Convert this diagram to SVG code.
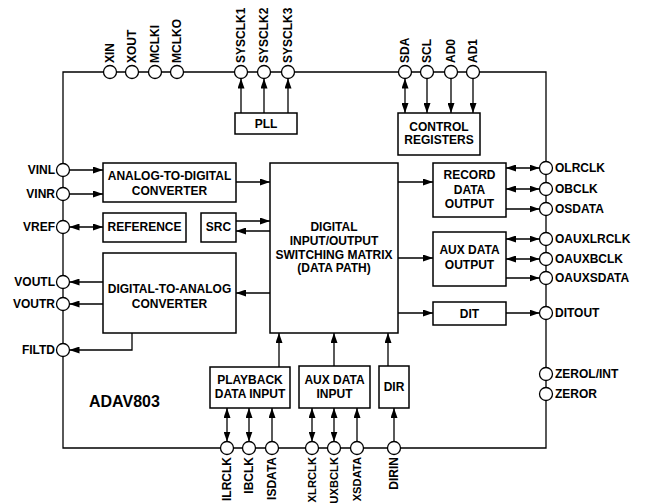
<svg xmlns="http://www.w3.org/2000/svg" width="646" height="504" viewBox="0 0 646 504">
<defs>
<marker id="ah" markerUnits="userSpaceOnUse" markerWidth="10" markerHeight="7" refX="10" refY="3.5" orient="auto-start-reverse">
<path d="M0,0 L10,3.5 L0,7 Z" fill="#000"/>
</marker>
</defs>
<style>
.box{fill:#fff;stroke:#000;stroke-width:1.5}
.pin{fill:#fff;stroke:#000;stroke-width:1.3}
.frame{fill:none;stroke:#000;stroke-width:1.3}
.c line,.c polyline{stroke:#000;stroke-width:1.3;fill:none}
.a{marker-end:url(#ah)}
.d{marker-start:url(#ah);marker-end:url(#ah)}
text{font-family:"Liberation Sans",Arial,sans-serif;font-weight:bold;font-size:12px;fill:#000}
.m{text-anchor:middle}
.e{text-anchor:end}
.s{font-size:11.2px}
</style>
<rect width="646" height="504" fill="#fff"/>
<path class="frame" d="M63,72 H546 V448 H63 Z"/>

<g id="connectors" class="c">
<line class="a" x1="241" y1="113" x2="241" y2="78.5"/>
<line class="a" x1="264" y1="113" x2="264" y2="78.5"/>
<line class="a" x1="288" y1="113" x2="288" y2="78.5"/>
<line class="d" x1="405" y1="78.5" x2="405" y2="113"/>
<line class="a" x1="427" y1="78.5" x2="427" y2="113"/>
<line class="a" x1="451" y1="78.5" x2="451" y2="113"/>
<line class="a" x1="473" y1="78.5" x2="473" y2="113"/>
<line class="a" x1="69.5" y1="170" x2="103" y2="170"/>
<line class="a" x1="69.5" y1="194" x2="103" y2="194"/>
<line class="d" x1="69.5" y1="227" x2="103" y2="227"/>
<line class="a" x1="103" y1="282" x2="69.5" y2="282"/>
<line class="a" x1="103" y1="304" x2="69.5" y2="304"/>
<polyline class="a" points="132,333 132,350 69.5,350"/>
<line class="a" x1="236" y1="182" x2="270" y2="182"/>
<line class="a" x1="236" y1="221" x2="270" y2="221"/>
<line class="a" x1="270" y1="231" x2="236" y2="231"/>
<line class="a" x1="270" y1="293" x2="236" y2="293"/>
<line class="a" x1="398" y1="182" x2="433" y2="182"/>
<line class="a" x1="398" y1="258" x2="433" y2="258"/>
<line class="a" x1="398" y1="313" x2="433" y2="313"/>
<line class="d" x1="506" y1="168" x2="539.5" y2="168"/>
<line class="d" x1="506" y1="189" x2="539.5" y2="189"/>
<line class="a" x1="506" y1="209" x2="539.5" y2="209"/>
<line class="d" x1="506" y1="239" x2="539.5" y2="239"/>
<line class="d" x1="506" y1="259" x2="539.5" y2="259"/>
<line class="a" x1="506" y1="278" x2="539.5" y2="278"/>
<line class="a" x1="506" y1="313" x2="539.5" y2="313"/>
<line class="a" x1="279" y1="367" x2="279" y2="333"/>
<line class="a" x1="334" y1="366" x2="334" y2="333"/>
<line class="a" x1="388" y1="366" x2="388" y2="333"/>
<line class="d" x1="227" y1="408" x2="227" y2="441.5"/>
<line class="d" x1="249" y1="408" x2="249" y2="441.5"/>
<line class="a" x1="272" y1="441.5" x2="272" y2="408"/>
<line class="d" x1="312" y1="408" x2="312" y2="441.5"/>
<line class="d" x1="334" y1="408" x2="334" y2="441.5"/>
<line class="a" x1="357" y1="441.5" x2="357" y2="408"/>
<line class="a" x1="394" y1="441.5" x2="394" y2="408"/>
</g>

<g id="pll"><rect class="box" x="235" y="113" width="62" height="21"/><text class="m" x="266" y="128">PLL</text></g>
<g id="control-registers"><rect class="box" x="398" y="113" width="82" height="42"/><text class="m" x="439" y="131">CONTROL</text><text class="m" x="439" y="144">REGISTERS</text></g>
<g id="adc"><rect class="box" x="103" y="163" width="133" height="39"/><text class="m" x="169.5" y="180">ANALOG-TO-DIGITAL</text><text class="m" x="169.5" y="195">CONVERTER</text></g>
<g id="reference"><rect class="box" x="103" y="213" width="83" height="29"/><text class="m" x="144.5" y="231">REFERENCE</text></g>
<g id="src"><rect class="box" x="201" y="213" width="35" height="29"/><text class="m" x="218.5" y="231">SRC</text></g>
<g id="dac"><rect class="box" x="103" y="253" width="133" height="80"/><text class="m" x="169.5" y="293">DIGITAL-TO-ANALOG</text><text class="m" x="169.5" y="308">CONVERTER</text></g>
<g id="matrix"><rect class="box" x="270" y="163" width="128" height="170"/><text class="m" x="334" y="231">DIGITAL</text><text class="m" x="334" y="245">INPUT/OUTPUT</text><text class="m" x="334" y="259">SWITCHING MATRIX</text><text class="m" x="334" y="272">(DATA PATH)</text></g>
<g id="record-data-output"><rect class="box" x="433" y="163" width="73" height="54"/><text class="m" x="469.5" y="179">RECORD</text><text class="m" x="469.5" y="194">DATA</text><text class="m" x="469.5" y="208">OUTPUT</text></g>
<g id="aux-data-output"><rect class="box" x="433" y="232" width="73" height="54"/><text class="m" x="469.5" y="254">AUX DATA</text><text class="m" x="469.5" y="269">OUTPUT</text></g>
<g id="dit"><rect class="box" x="433" y="302" width="73" height="23"/><text class="m" x="469.5" y="318">DIT</text></g>
<g id="playback-data-input"><rect class="box" x="210" y="367" width="80" height="41"/><text class="m" x="250" y="384">PLAYBACK</text><text class="m" x="250" y="398">DATA INPUT</text></g>
<g id="aux-data-input"><rect class="box" x="299" y="366" width="71" height="42"/><text class="m" x="334.5" y="384">AUX DATA</text><text class="m" x="334.5" y="398">INPUT</text></g>
<g id="dir"><rect class="box" x="379" y="366" width="30" height="42"/><text class="m" x="394" y="391">DIR</text></g>
<g id="chip-label"><text x="89" y="407" style="font-size:16px">ADAV803</text></g>

<g id="pins-top">
<circle class="pin" cx="110" cy="72" r="6.5"/><text transform="translate(114.3,63) rotate(-90)">XIN</text>
<circle class="pin" cx="132" cy="72" r="6.5"/><text transform="translate(136.3,63) rotate(-90)">XOUT</text>
<circle class="pin" cx="155" cy="72" r="6.5"/><text transform="translate(159.3,63) rotate(-90)">MCLKI</text>
<circle class="pin" cx="177" cy="72" r="6.5"/><text transform="translate(181.3,63) rotate(-90)">MCLKO</text>
<circle class="pin" cx="241" cy="72" r="6.5"/><text transform="translate(245.3,63) rotate(-90)">SYSCLK1</text>
<circle class="pin" cx="264" cy="72" r="6.5"/><text transform="translate(268.3,63) rotate(-90)">SYSCLK2</text>
<circle class="pin" cx="288" cy="72" r="6.5"/><text transform="translate(292.3,63) rotate(-90)">SYSCLK3</text>
<circle class="pin" cx="405" cy="72" r="6.5"/><text transform="translate(409.3,63) rotate(-90)">SDA</text>
<circle class="pin" cx="427" cy="72" r="6.5"/><text transform="translate(431.3,63) rotate(-90)">SCL</text>
<circle class="pin" cx="451" cy="72" r="6.5"/><text transform="translate(455.3,63) rotate(-90)">AD0</text>
<circle class="pin" cx="473" cy="72" r="6.5"/><text transform="translate(477.3,63) rotate(-90)">AD1</text>
</g>
<g id="pins-left">
<circle class="pin" cx="63" cy="170" r="6.5"/><text class="e" x="55" y="174.3">VINL</text>
<circle class="pin" cx="63" cy="194" r="6.5"/><text class="e" x="55" y="198.3">VINR</text>
<circle class="pin" cx="63" cy="227" r="6.5"/><text class="e" x="55" y="231.3">VREF</text>
<circle class="pin" cx="63" cy="282" r="6.5"/><text class="e" x="55" y="286.3">VOUTL</text>
<circle class="pin" cx="63" cy="304" r="6.5"/><text class="e" x="55" y="308.3">VOUTR</text>
<circle class="pin" cx="63" cy="350" r="6.5"/><text class="e" x="55" y="354.3">FILTD</text>
</g>
<g id="pins-right">
<circle class="pin" cx="546" cy="168" r="6.5"/><text x="555" y="172.3">OLRCLK</text>
<circle class="pin" cx="546" cy="189" r="6.5"/><text x="555" y="193.3">OBCLK</text>
<circle class="pin" cx="546" cy="209" r="6.5"/><text x="555" y="213.3">OSDATA</text>
<circle class="pin" cx="546" cy="239" r="6.5"/><text x="555" y="243.3">OAUXLRCLK</text>
<circle class="pin" cx="546" cy="259" r="6.5"/><text x="555" y="263.3">OAUXBCLK</text>
<circle class="pin" cx="546" cy="278" r="6.5"/><text x="555" y="282.3">OAUXSDATA</text>
<circle class="pin" cx="546" cy="313" r="6.5"/><text x="555" y="317.3">DITOUT</text>
<circle class="pin" cx="546" cy="374" r="6.5"/><text x="555" y="378.3">ZEROL/INT</text>
<circle class="pin" cx="546" cy="394" r="6.5"/><text x="555" y="398.3">ZEROR</text>
</g>
<g id="pins-bottom">
<circle class="pin" cx="227" cy="448" r="6.5"/><text class="e" transform="translate(231.3,457) rotate(-90)">ILRCLK</text>
<circle class="pin" cx="249" cy="448" r="6.5"/><text class="e" transform="translate(253.3,457) rotate(-90)">IBCLK</text>
<circle class="pin" cx="272" cy="448" r="6.5"/><text class="e" transform="translate(276.3,457) rotate(-90)">ISDATA</text>
<circle class="pin" cx="312" cy="448" r="6.5"/><text class="e s" transform="translate(316.3,457) rotate(-90)">XLRCLK</text>
<circle class="pin" cx="334" cy="448" r="6.5"/><text class="e s" transform="translate(338.3,457) rotate(-90)">UXBCLK</text>
<circle class="pin" cx="357" cy="448" r="6.5"/><text class="e s" transform="translate(361.3,457) rotate(-90)">XSDATA</text>
<circle class="pin" cx="394" cy="448" r="6.5"/><text class="e" transform="translate(398.3,457) rotate(-90)">DIRIN</text>
</g>
</svg>
